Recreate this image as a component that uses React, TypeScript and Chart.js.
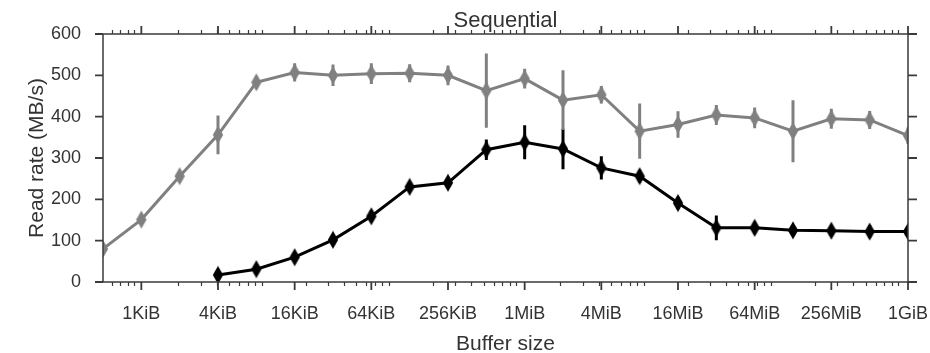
import React, { useEffect, useRef } from 'react';
import { Chart, registerables } from 'chart.js';

Chart.register(...registerables);

// ---- data ----
const bufferSizes = [
  512, 1024, 2048, 4096, 8192, 16384, 32768, 65536, 131072, 262144, 524288,
  1048576, 2097152, 4194304, 8388608, 16777216, 33554432, 67108864, 134217728,
  268435456, 536870912, 1073741824,
];
const grayRates = [80, 151, 256, 356, 483, 507, 500, 504, 505, 500, 463, 492, 440, 453, 365, 381, 404, 397, 365, 395, 392, 354];
const grayErrors = [12, 12, 12, 47, 15, 22, 26, 25, 22, 24, 90, 24, 72, 21, 67, 32, 24, 25, 75, 24, 22, 20];
const blackRates = [null, null, null, 17, 31, 60, 102, 159, 230, 240, 320, 338, 322, 276, 256, 191, 131, 131, 125, 124, 122, 122];
const blackErrors = [null, null, null, 14, 12, 12, 12, 14, 12, 12, 25, 41, 49, 28, 15, 15, 30, 15, 12, 12, 15, 12];
const xTickValues = [1024, 4096, 16384, 65536, 262144, 1048576, 4194304, 16777216, 67108864, 268435456, 1073741824];
const xTickLabels = ['1KiB', '4KiB', '16KiB', '64KiB', '256KiB', '1MiB', '4MiB', '16MiB', '64MiB', '256MiB', '1GiB'];
const yTickValues = [0, 100, 200, 300, 400, 500, 600];
const chartTitle = 'Sequential';
const xTitle = 'Buffer size';
const yTitle = 'Read rate (MB/s)';

const FONT = '"Liberation Sans", Arial, sans-serif';
const AXIS = '#3a3a3a';
const TEXT = '#333333';
const GRAY = '#808080';
const BLACK = '#000000';

function diamond(color: string): HTMLCanvasElement {
  const c = document.createElement('canvas');
  c.width = 12;
  c.height = 19;
  const g = c.getContext('2d')!;
  g.fillStyle = color;
  g.beginPath();
  g.moveTo(6, 0.5);
  g.lineTo(11.2, 9.5);
  g.lineTo(6, 18.5);
  g.lineTo(0.8, 9.5);
  g.closePath();
  g.fill();
  return c;
}

const errorSets = [grayErrors, blackErrors];
const errorColors = [GRAY, BLACK];

const errorBarPlugin = {
  id: 'errorBars',
  beforeDatasetDraw(chart: any, args: any) {
    const idx = args.index;
    const errs = errorSets[idx];
    const vals = chart.data.datasets[idx].data;
    const { ctx, chartArea: a, scales } = chart;
    ctx.save();
    ctx.beginPath();
    ctx.rect(a.left, a.top, a.right - a.left, a.bottom - a.top);
    ctx.clip();
    ctx.strokeStyle = errorColors[idx];
    ctx.lineWidth = 3;
    ctx.beginPath();
    vals.forEach((p: any, i: number) => {
      if (p.y == null || errs[i] == null) return;
      const px = scales.x.getPixelForValue(p.x);
      ctx.moveTo(px, scales.y.getPixelForValue(p.y - (errs[i] as number)));
      ctx.lineTo(px, scales.y.getPixelForValue(p.y + (errs[i] as number)));
    });
    ctx.stroke();
    ctx.restore();
  },
};

const framePlugin = {
  id: 'frame',
  afterDraw(chart: any) {
    const { ctx, chartArea: a, scales } = chart;
    const xs = scales.x;
    const ys = scales.y;
    ctx.save();
    ctx.strokeStyle = AXIS;
    ctx.lineWidth = 1.5;
    ctx.strokeRect(a.left, a.top, a.right - a.left, a.bottom - a.top);
    // minor x ticks (base-10 subs)
    ctx.beginPath();
    ctx.lineWidth = 1.2;
    for (let e = 2; e <= 9; e++) {
      for (let m = 2; m <= 9; m++) {
        const v = m * Math.pow(10, e);
        if (v <= xs.min || v >= xs.max) continue;
        const px = Math.round(xs.getPixelForValue(v)) + 0.5;
        ctx.moveTo(px, a.bottom);
        ctx.lineTo(px, a.bottom + 4);
        ctx.moveTo(px, a.top);
        ctx.lineTo(px, a.top - 4);
      }
    }
    ctx.stroke();
    // major x ticks
    ctx.beginPath();
    ctx.lineWidth = 1.8;
    for (const v of xTickValues) {
      const px = xs.getPixelForValue(v);
      ctx.moveTo(px, a.bottom);
      ctx.lineTo(px, a.bottom + 8);
      ctx.moveTo(px, a.top);
      ctx.lineTo(px, a.top - 8);
    }
    for (const v of yTickValues) {
      const py = ys.getPixelForValue(v);
      ctx.moveTo(a.left - 8, py);
      ctx.lineTo(a.left, py);
      ctx.moveTo(a.right, py);
      ctx.lineTo(a.right + 9, py);
    }
    ctx.stroke();
    // texts
    const cx = (a.left + a.right) / 2;
    ctx.fillStyle = TEXT;
    ctx.textAlign = 'center';
    ctx.textBaseline = 'alphabetic';
    ctx.font = `22px ${FONT}`;
    ctx.fillText(chartTitle, cx, 27);
    ctx.font = `21px ${FONT}`;
    ctx.fillText(xTitle, cx, 350);
    ctx.save();
    ctx.translate(43, (a.top + a.bottom) / 2);
    ctx.rotate(-Math.PI / 2);
    ctx.fillText(yTitle, 0, 0);
    ctx.restore();
    ctx.restore();
  },
};

export default function App() {
  const ref = useRef<HTMLCanvasElement>(null);
  useEffect(() => {
    document.body.style.margin = '0';
    const canvas = ref.current!;
    const chart = new Chart(canvas, {
      type: 'line',
      data: {
        datasets: [
          {
            data: bufferSizes.map((x, i) => ({ x, y: grayRates[i] })),
            borderColor: GRAY,
            backgroundColor: GRAY,
            borderWidth: 3,
            pointStyle: diamond(GRAY) as any,
            pointRadius: 5,
            tension: 0,
            clip: 0 as any,
          },
          {
            data: bufferSizes.map((x, i) => ({ x, y: blackRates[i] as any })),
            borderColor: BLACK,
            backgroundColor: BLACK,
            borderWidth: 3,
            pointStyle: diamond(BLACK) as any,
            pointRadius: 5,
            tension: 0,
            clip: 0 as any,
          },
        ],
      },
      options: {
        animation: false,
        responsive: false,
        maintainAspectRatio: false,
        events: [],
        layout: { padding: { top: 34, right: 22, left: 0, bottom: 0 } },
        plugins: {
          legend: { display: false },
          title: { display: false },
          tooltip: { enabled: false },
        },
        scales: {
          x: {
            type: 'logarithmic',
            min: 512,
            max: 1073741824,
            grid: { display: false, drawTicks: false },
            border: { display: false },
            ticks: {
              padding: 21,
              color: TEXT,
              font: { size: 18, family: FONT },
              autoSkip: false,
              maxRotation: 0,
              callback: (_v: any, i: number) => xTickLabels[i],
            },
            afterBuildTicks: (scale: any) => {
              scale.ticks = xTickValues.map((v) => ({ value: v }));
            },
            afterFit: (scale: any) => {
              scale.height = 71;
              scale.paddingLeft = 0;
              scale.paddingRight = 0;
            },
          },
          y: {
            min: 0,
            max: 600,
            grid: { display: false, drawTicks: false },
            border: { display: false },
            ticks: {
              stepSize: 100,
              padding: 22,
              color: TEXT,
              font: { size: 18, family: FONT },
            },
            afterBuildTicks: (scale: any) => {
              scale.ticks = yTickValues.map((v) => ({ value: v }));
            },
            afterFit: (scale: any) => {
              scale.width = 103;
              scale.paddingTop = 0;
              scale.paddingBottom = 0;
            },
          },
        },
      },
      plugins: [errorBarPlugin, framePlugin],
    });
    return () => chart.destroy();
  }, []);
  return (
    <div style={{ width: 930, height: 353 }}>
      <canvas ref={ref} width={930} height={353} style={{ display: 'block' }} />
    </div>
  );
}
